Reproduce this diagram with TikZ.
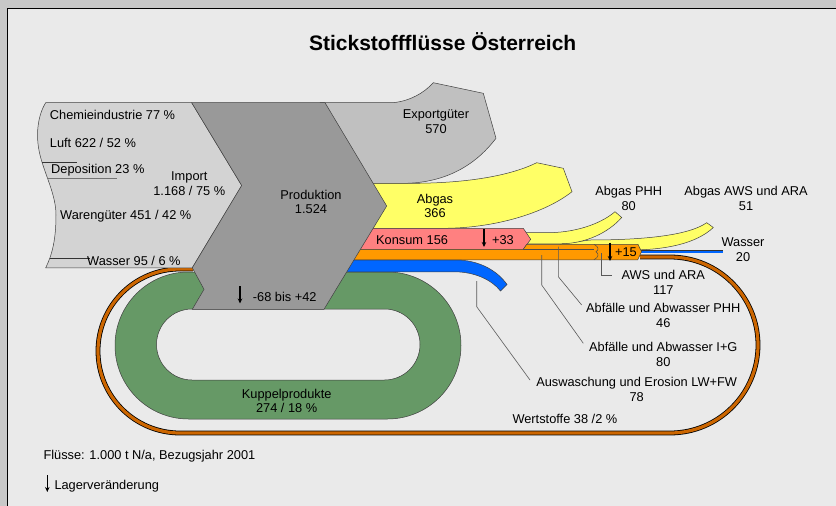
\documentclass[tikz,border=0pt]{standalone}
\usepackage{fontspec}
\setmainfont{Liberation Sans}
\usetikzlibrary{arrows.meta}
\definecolor{outerbg}{HTML}{C8C8C8}
\definecolor{panelbg}{HTML}{EAEAEA}
\definecolor{importc}{HTML}{D3D3D3}
\definecolor{exportc}{HTML}{C0C0C0}
\definecolor{prodc}{HTML}{999999}
\definecolor{yellowc}{HTML}{FFFF66}
\definecolor{pinkc}{HTML}{FF8080}
\definecolor{orangec}{HTML}{FF9900}
\definecolor{bluec}{HTML}{0066FF}
\definecolor{greenc}{HTML}{669966}
\definecolor{brownc}{HTML}{CC6600}
\begin{document}
\begin{tikzpicture}[x=1pt,y=-1pt,
  flow/.style={draw=black!75,line width=0.5pt},
  lbl/.style={inner sep=0pt,font=\fontsize{12.8}{14.8}\selectfont,align=center},
  lblw/.style={inner sep=0pt,font=\fontsize{12.8}{14.8}\selectfont,anchor=base west},
  lblb/.style={inner sep=0pt,font=\fontsize{12.8}{14.8}\selectfont,anchor=base},
  leader/.style={draw=black!65,line width=0.6pt},
  stockarrow/.style={-{Stealth[length=5pt,width=4.5pt]},line width=1.1pt},
]
% background
\useasboundingbox (0,0) rectangle (836,506);
\fill[outerbg] (0,0) rectangle (836,506);
\fill[panelbg] (7,8) rectangle (836,506);
\draw[black,line width=1pt] (7,506) -- (7,8) -- (836,8);

% Wertstoffe loop
\draw[black,line width=4.8pt] (193,269) -- (180,269) arc[start angle=270,end angle=90,radius=82] -- (670,433) arc[start angle=90,end angle=-90,radius=88] -- (640,257);
\draw[brownc,line width=3.2pt] (193,269) -- (180,269) arc[start angle=270,end angle=90,radius=82] -- (670,433) arc[start angle=90,end angle=-90,radius=88] -- (640,257);

% Kuppelprodukte ring
\path[flow,fill=greenc,even odd rule] (188.5,272) -- (387.5,272) arc[start angle=270,end angle=450,radius=73.5] -- (188.5,419) arc[start angle=90,end angle=270,radius=73.5] -- cycle
  (192,309) -- (384.5,309) arc[start angle=270,end angle=450,radius=35.5] -- (192,380) arc[start angle=90,end angle=270,radius=35.5] -- cycle;

% Exportgueter
\path[flow,fill=exportc] (320,102.7) -- (393,102.7) .. controls (410,101) and (424,93) .. (433.3,82.7) -- (483.3,93.3) -- (496,138.3) .. controls (478,162) and (450,182) .. (406.7,183.3) -- (320,183.3) -- cycle;

% Abgas
\path[flow,fill=yellowc] (320,183.3) -- (415,183.3) .. controls (470,183) and (512,175) .. (536.7,162.7) -- (563.3,168.3) -- (572,191.7) .. controls (545,213) and (495,228.3) .. (443,228.3) -- (320,228.3) -- cycle;

% Abgas AWS und ARA band
\path[flow,fill=yellowc] (560,244) -- (590,240) .. controls (640,240) and (688,236) .. (706.7,222.7) -- (713.3,227.5) .. controls (697,243) and (667,250) .. (630,250) -- (560,250) -- cycle;
% Abgas PHH band
\path[flow,fill=yellowc] (520,232.7) -- (550,232.7) .. controls (580,232) and (603,222) .. (615,211.7) -- (621.7,217.5) .. controls (608,233) and (585,243.8) .. (560,243.8) -- (520,243.8) -- cycle;

% Wasser line
\draw[black!80,line width=3pt] (636,251.7) -- (723.3,251.7);
\draw[bluec,line width=2pt] (636,251.7) -- (722.8,251.7);

% Konsum
\path[flow,fill=pinkc] (320,228.3) -- (523.3,228.3) -- (530.7,239.3) -- (523.3,249.3) -- (320,249.3) -- cycle;

% orange band
\path[flow,fill=orangec] (320,249.3) -- (523.3,249.3) -- (526.7,244.3) -- (638,244.3) -- (641.5,251.7) -- (637.7,259.8) -- (320,259.8) -- cycle;
\draw[black!70,line width=0.5pt] (523.3,249.3) -- (594,249.3);
\draw[black!70,line width=0.5pt] (594,244.3) .. controls (599,247) and (599,250) .. (596,251.7) .. controls (599,253.5) and (599,257) .. (594,259.8);

% blue band
\path[flow,fill=bluec] (320,260) -- (456,260) .. controls (478,260) and (497,270) .. (507,284.5) -- (500.5,291) .. controls (492,280) and (475,272) .. (455,271.8) -- (320,271.8) -- cycle;

% Import
\path[flow,fill=importc] (45.7,102.7) -- (191.7,102.7) -- (241.7,185.5) -- (192.3,267.8) -- (45.7,267.8) .. controls (52,255) and (56,240) .. (56,215) .. controls (56,195) and (45,175) .. (40,155) .. controls (35,135) and (38,115) .. (45.7,102.7) -- cycle;
\draw[black!80,line width=0.6pt] (42,162) -- (77,162);
\draw[black!55,line width=0.6pt] (47,178.7) -- (117,178.7);
\draw[black!80,line width=0.6pt] (50,258.3) -- (90,258.3);

% Produktion
\path[flow,fill=prodc] (191.7,102.7) -- (325,102.7) -- (386.7,206) -- (324,309.3) -- (192.3,309.3) -- (204,289.3) -- (192.3,267.8) -- (241.7,185.5) -- cycle;

% leader lines
\coordinate (la1) at (476.7,281);
\coordinate (la2) at (476.7,306.7);
\coordinate (la3) at (530,380);
\draw[leader] (la1) -- (la2) -- (la3);
\coordinate (lb1) at (541.7,255);
\coordinate (lb2) at (541.7,285);
\coordinate (lb3) at (583.3,343.3);
\draw[leader] (lb1) -- (lb2) -- (lb3);
\coordinate (lc1) at (558.3,246.7);
\coordinate (lc2) at (558.3,276.7);
\coordinate (lc3) at (581.7,305);
\draw[leader] (lc1) -- (lc2) -- (lc3);
\coordinate (ld1) at (601,253.3);
\coordinate (ld2) at (601,275);
\coordinate (ld3) at (611.7,275);
\draw[leader] (ld1) -- (ld2) -- (ld3);

% stock change arrows
\coordinate (ak1) at (484,229);
\coordinate (ak2) at (484,247);
\draw[stockarrow] (ak1) -- (ak2);
\coordinate (aa1) at (610,242.7);
\coordinate (aa2) at (610,261);
\draw[stockarrow] (aa1) -- (aa2);
\coordinate (ap1) at (240,286);
\coordinate (ap2) at (240,303.5);
\draw[stockarrow] (ap1) -- (ap2);
\coordinate (al1) at (47.3,475);
\coordinate (al2) at (47.3,492);
\draw[-{Stealth[length=5pt,width=4.5pt]},line width=0.8pt] (al1) -- (al2);

% texts
\node[inner sep=0pt,anchor=base,font=\fontsize{21}{24}\selectfont\bfseries] (title) at (442.7,50) {Stickstoffflüsse Österreich};
\node[lblw] (chem) at (49.7,119.3) {Chemieindustrie 77 \%};
\node[lblw] (luft) at (49.7,147.2) {Luft 622 / 52 \%};
\node[lblw] (depo) at (51,173) {Deposition 23 \%};
\node[lblw] (ware) at (60,219) {Warengüter 451 / 42 \%};
\node[lblw] (wasi) at (87,265) {Wasser 95 / 6 \%};
\node[lbl] (imp) at (189.3,183.7) {Import\\1.168 / 75 \%};
\node[lbl] (prod) at (311,202) {Produktion\\1.524};
\node[lblw] (lagp) at (252.7,301.7) {-68 bis +42};
\node[lbl] (exp) at (436,122) {Exportgüter\\570};
\node[lbl] (abg) at (435,206) {Abgas\\366};
\node[lblw] (kon) at (376,244) {Konsum 156};
\node[lblb] (kon33) at (503,244) {+33};
\node[lbl] (aphh) at (628.7,198.6) {Abgas PHH\\80};
\node[lbl] (aaws) at (746,198.6) {Abgas AWS und ARA\\51};
\node[lbl] (wass) at (743,249.3) {Wasser\\20};
\node[lblb] (p15) at (626,256) {+15};
\node[lbl] (aws) at (663.3,282.7) {AWS und ARA\\117};
\node[lbl] (phh) at (663.3,315.3) {Abfälle und Abwasser PHH\\46};
\node[lbl] (ig) at (663.3,354.3) {Abfälle und Abwasser I+G\\80};
\node[lbl] (ausw) at (636.7,389.3) {Auswaschung und Erosion LW+FW\\78};
\node[lblw] (wert) at (512.3,423.3) {Wertstoffe 38 /2 \%};
\node[lbl] (kup) at (286.7,401) {Kuppelprodukte\\274 / 18 \%};
\node[lblw] (flu) at (43.3,459) {Flüsse: 1.000 t N/a, Bezugsjahr 2001};
\node[lblw] (lag) at (54.3,489) {Lagerveränderung};
\end{tikzpicture}
\end{document}
